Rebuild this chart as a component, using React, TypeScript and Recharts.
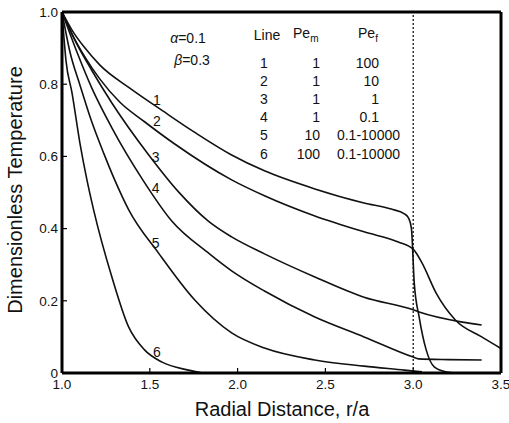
import React from "react";
import { LineChart, Line, XAxis, YAxis, ReferenceLine, ReferenceDot } from "recharts";

// r/a vs dimensionless temperature
const line1 = [
  [1.0, 1.0], [1.057, 0.95], [1.131, 0.9], [1.216, 0.853], [1.386, 0.789], [1.574, 0.726],
  [1.761, 0.665], [1.966, 0.604], [2.153, 0.56], [2.44, 0.51], [2.72, 0.471],
  [2.875, 0.454], [2.95, 0.441], [2.975, 0.428], [2.99, 0.4], [3.006, 0.249],
  [3.034, 0.155], [3.074, 0.064], [3.12, 0.017], [3.19, 0.003], [3.26, 0.0], [3.4, 0.0],
];
const line2 = [
  [1.0, 1.0], [1.057, 0.939], [1.131, 0.875], [1.216, 0.814], [1.33, 0.75], [1.47, 0.696],
  [1.64, 0.635], [1.966, 0.535], [2.153, 0.491], [2.44, 0.435], [2.72, 0.391],
  [2.915, 0.363], [3.0, 0.343], [3.05, 0.305], [3.13, 0.222], [3.24, 0.147],
  [3.39, 0.1], [3.5, 0.068],
];
const line3 = [
  [1.0, 1.0], [1.085, 0.911], [1.17, 0.838], [1.284, 0.748], [1.494, 0.604], [1.665, 0.501],
  [1.835, 0.42], [1.966, 0.377], [2.153, 0.33], [2.44, 0.266], [2.72, 0.21],
  [3.0, 0.175], [3.034, 0.169], [3.28, 0.141], [3.39, 0.133],
];
const line4 = [
  [1.0, 1.0], [1.085, 0.889], [1.17, 0.789], [1.284, 0.679], [1.46, 0.535], [1.625, 0.421],
  [1.84, 0.33], [1.966, 0.283], [2.153, 0.227], [2.44, 0.155], [2.72, 0.1],
  [3.0, 0.044], [3.03, 0.039], [3.2, 0.037], [3.39, 0.036],
];
const line5 = [
  [1.0, 1.0], [1.045, 0.89], [1.102, 0.798], [1.17, 0.695], [1.239, 0.607], [1.3, 0.535],
  [1.38, 0.452], [1.55, 0.332], [1.756, 0.202], [1.966, 0.111], [2.153, 0.069],
  [2.44, 0.036], [2.72, 0.019], [2.95, 0.008], [3.05, 0.003],
];
const line6 = [
  [1.0, 1.0], [1.023, 0.864], [1.057, 0.776], [1.102, 0.637], [1.142, 0.535], [1.18, 0.452],
  [1.284, 0.266], [1.38, 0.127], [1.47, 0.064], [1.57, 0.03], [1.72, 0.008], [1.8, 0.0],
];

const series = [line1, line2, line3, line4, line5, line6];

const xTicks = [1.0, 1.5, 2.0, 2.5, 3.0, 3.5];
const yTicks = [0, 0.2, 0.4, 0.6, 0.8, 1.0];

// where the curve numbers sit
const curveLabels = [
  { n: "1", x: 1.54, y: 0.756 },
  { n: "2", x: 1.54, y: 0.698 },
  { n: "3", x: 1.534, y: 0.598 },
  { n: "4", x: 1.534, y: 0.512 },
  { n: "5", x: 1.534, y: 0.36 },
  { n: "6", x: 1.54, y: 0.058 },
];

const tableRows = [
  { line: "1", pem: "1", pef: "100" },
  { line: "2", pem: "1", pef: "10" },
  { line: "3", pem: "1", pef: "1" },
  { line: "4", pem: "1", pef: "0.1" },
  { line: "5", pem: "10", pef: "0.1-10000" },
  { line: "6", pem: "100", pef: "0.1-10000" },
];

const font = "'Liberation Sans', Arial, Helvetica, sans-serif";
const toPts = (arr: number[][]) => arr.map(([x, y]) => ({ x, y }));

export default function App() {
  const rowY = [63, 81, 99, 117, 135, 154];
  return (
    <div style={{ position: "absolute", left: 0, top: 0, width: 509, height: 423, background: "#fff", fontFamily: font }}>
      <LineChart width={509} height={423} margin={{ top: 11, right: 7, left: 22, bottom: 25 }}>
        <XAxis
          dataKey="x"
          type="number"
          domain={[1, 3.5]}
          ticks={xTicks}
          interval={0}
          allowDataOverflow
          height={25}
          tickFormatter={(v: number) => v.toFixed(1)}
          tick={{ fill: "#111", fontSize: 13.5, fontFamily: font }}
          axisLine={{ stroke: "#000", strokeWidth: 3 }}
          tickLine={{ stroke: "#000", strokeWidth: 1.2 }}
          tickSize={-5}
          tickMargin={11}
        />
        <XAxis
          xAxisId="top"
          orientation="top"
          type="number"
          domain={[1, 3.5]}
          ticks={[1.5, 2.0, 2.5, 3.0]}
          interval={0}
          height={1}
          tick={false}
          axisLine={{ stroke: "#000", strokeWidth: 3 }}
          tickLine={{ stroke: "#000", strokeWidth: 1.2 }}
          tickSize={-5}
        />
        <YAxis
          type="number"
          domain={[0, 1]}
          ticks={yTicks}
          interval={0}
          allowDataOverflow
          width={40}
          tickFormatter={(v: number) => (v === 0 ? "0" : v.toFixed(1))}
          tick={{ fill: "#111", fontSize: 13.5, fontFamily: font }}
          axisLine={{ stroke: "#000", strokeWidth: 3 }}
          tickLine={{ stroke: "#000", strokeWidth: 1.2 }}
          tickSize={-5}
          tickMargin={9}
        />
        <YAxis
          yAxisId="right"
          orientation="right"
          type="number"
          domain={[0, 1]}
          ticks={[0.2, 0.4, 0.6, 0.8]}
          interval={0}
          width={1}
          tick={false}
          axisLine={{ stroke: "#000", strokeWidth: 3 }}
          tickLine={{ stroke: "#000", strokeWidth: 1.2 }}
          tickSize={-5}
        />
        <ReferenceLine x={3} stroke="#000" strokeWidth={1.2} strokeDasharray="2 2" />
        {series.map((s, i) => (
          <Line
            key={i}
            data={toPts(s)}
            dataKey="y"
            type="monotone"
            stroke="#111"
            strokeWidth={1.6}
            dot={false}
            isAnimationActive={false}
          />
        ))}
        {curveLabels.map((c) => (
          <ReferenceDot
            key={c.n}
            x={c.x}
            y={c.y}
            r={0}
            fill="none"
            stroke="none"
            label={{ value: c.n, position: "center", fill: "#111", fontSize: 14, fontFamily: font }}
          />
        ))}
      </LineChart>
      <svg
        width={509}
        height={423}
        style={{ position: "absolute", left: 0, top: 0, pointerEvents: "none" }}
        fontFamily={font}
        fill="#111"
      >
        <text x={188} y={43} fontSize={14} textAnchor="middle">
          <tspan fontStyle="italic">α</tspan>=0.1
        </text>
        <text x={192} y={65} fontSize={14} textAnchor="middle">
          <tspan fontStyle="italic">β</tspan>=0.3
        </text>
        <text x={267} y={40} fontSize={14} textAnchor="middle">Line</text>
        <text x={293} y={38} fontSize={14}>
          Pe<tspan dy={4} fontSize={10}>m</tspan>
        </text>
        <text x={358} y={38} fontSize={14}>
          Pe<tspan dy={4} fontSize={10}>f</tspan>
        </text>
        {tableRows.map((r, i) => (
          <g key={r.line}>
            <text x={264} y={rowY[i] + 5} fontSize={14} textAnchor="middle">{r.line}</text>
            <text x={320} y={rowY[i] + 5} fontSize={14} textAnchor="end">{r.pem}</text>
            <text x={r.pef.length > 4 ? 400 : 379} y={rowY[i] + 5} fontSize={14} textAnchor="end">{r.pef}</text>
          </g>
        ))}
        <text x={282} y={416} fontSize={20} textAnchor="middle">Radial Distance, r/a</text>
        <text x={22} y={190} fontSize={20} textAnchor="middle" transform="rotate(-90 22 190)">
          Dimensionless Temperature
        </text>
      </svg>
    </div>
  );
}
